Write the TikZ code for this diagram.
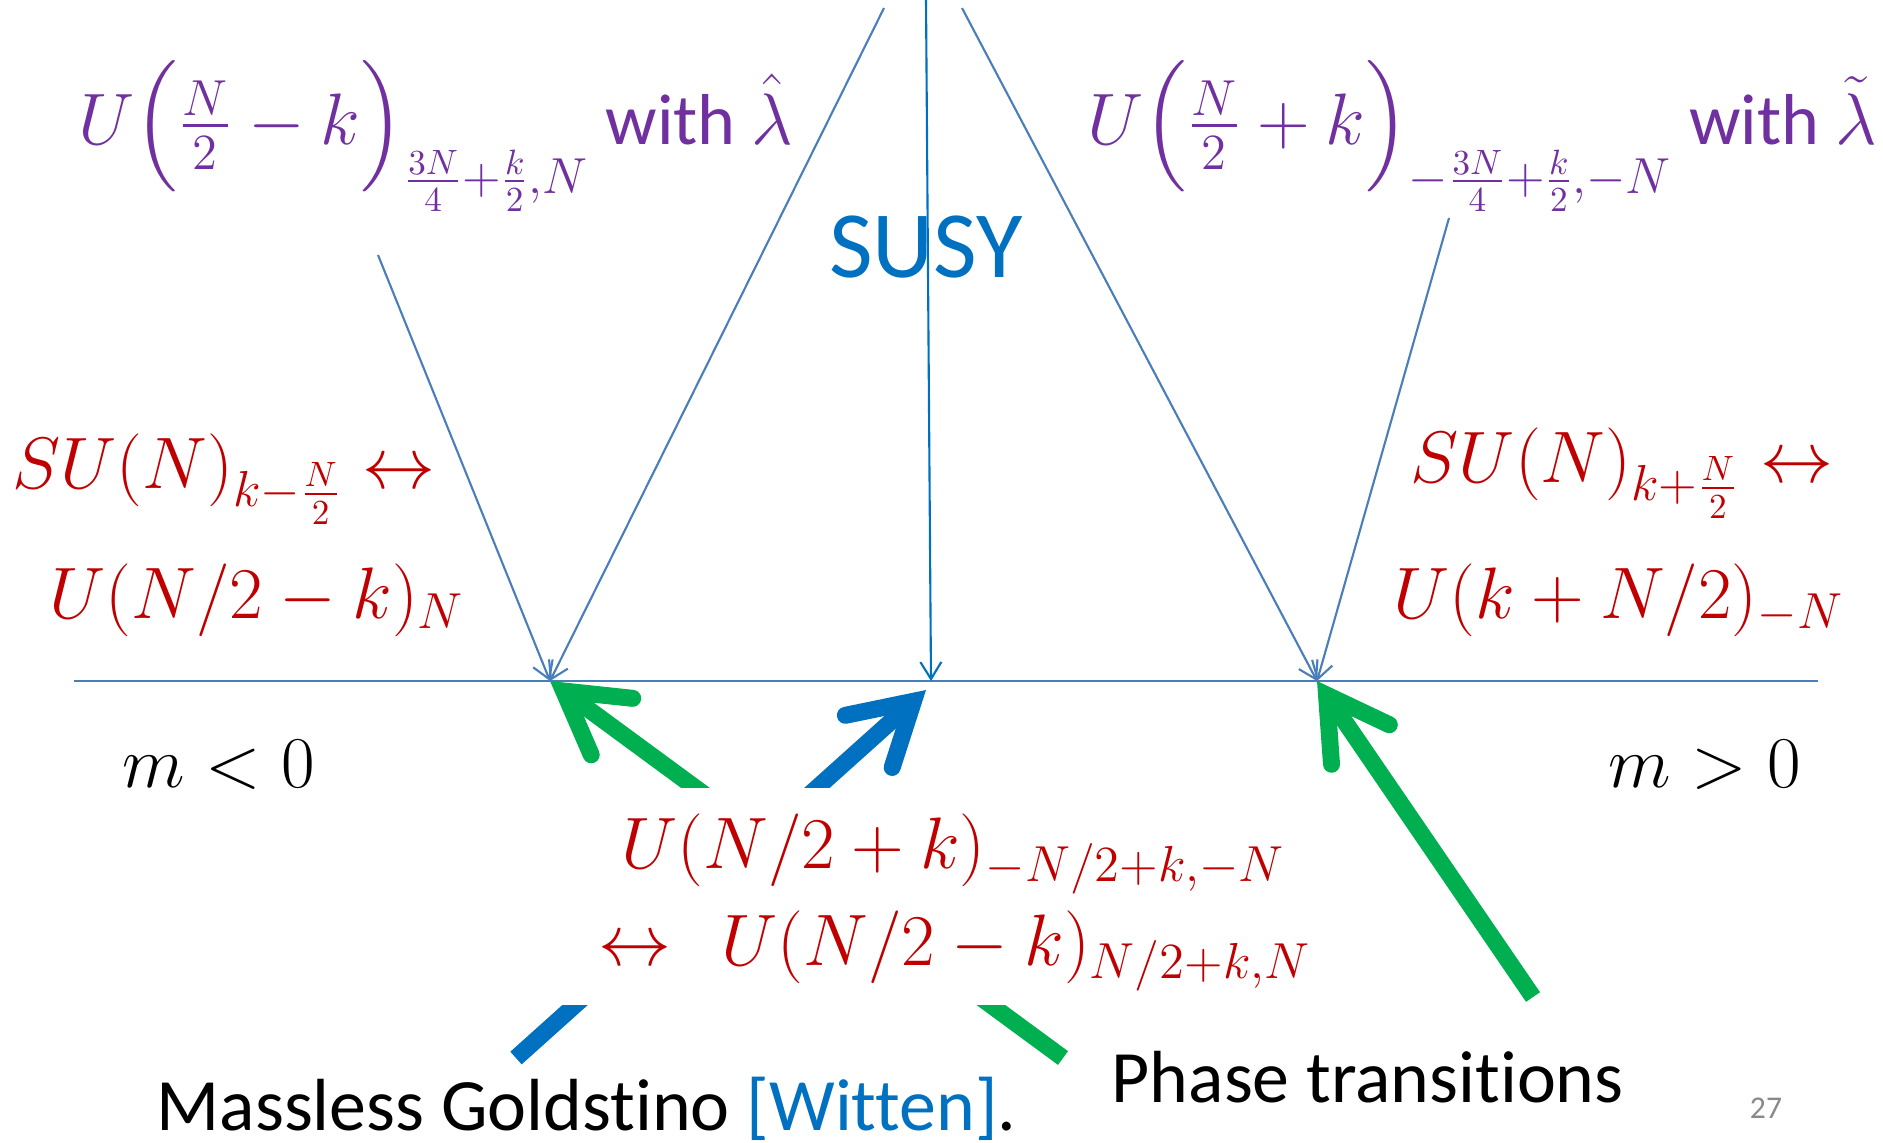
\documentclass[tikz,border=0pt]{standalone}
\usepackage{amsmath}
\usepackage{fontspec}
\setmainfont{Carlito}[Ligatures=NoCommon]
\usetikzlibrary{arrows.meta}
\definecolor{susyblue}{HTML}{0070C0}
\definecolor{flowblue}{HTML}{4A7EBB}
\definecolor{dualred}{HTML}{C00000}
\definecolor{levelpurple}{HTML}{7030A0}
\definecolor{phasegreen}{HTML}{00B050}
\definecolor{pagegray}{HTML}{898989}
\newcommand\slidesize{\fontsize{20.5}{27.6}\selectfont}
\tikzset{
  massaxis/.style={draw=flowblue,line width=.7pt},
  feed/.style={draw=flowblue,line width=.6pt,-{Straight Barb[length=.17cm,width=.21cm]}},
  fat/.style={line width=.17cm,-{Straight Barb[length=.6cm,width=.7cm,line cap=round,line join=miter]}},
  eqn/.style={inner sep=0pt,font=\slidesize},
  words/.style={inner sep=0pt,font=\fontsize{21}{25}\selectfont}}

\begin{document}
\begin{tikzpicture}[x=.01cm,y=-.01cm]
\useasboundingbox (0,0) rectangle (1883,1142);
% mass axis and the three special points
\coordinate (axL) at (74,681);\coordinate (axR) at (1818,681);
\coordinate (pL) at (550,681);\coordinate (pM) at (931,681);\coordinate (pR) at (1317,681);
\draw[massaxis] (axL)--(axR);
% thin feeds from above
\coordinate (lamHat) at (378,255);\coordinate (topA) at (884,8);
\coordinate (topB) at (926,0);\coordinate (topC) at (962,8);\coordinate (lamTil) at (1449,218);
\draw[feed] (lamHat)--(pL);\draw[feed] (topA)--(pL);
\draw[feed,draw=susyblue] (topB)--(pM);
\draw[feed] (topC)--(pR);\draw[feed] (lamTil)--(pR);
% thick arrows from the bottom labels
\coordinate (gsTail) at (516,1058);\coordinate (gsTip) at (926,690);
\coordinate (ptTail) at (1063,1058);\coordinate (ptTailR) at (1533,997);
\draw[fat,draw=susyblue] (gsTail)--(gsTip);
\draw[fat,draw=phasegreen] (ptTail)--(pL);
\draw[fat,draw=phasegreen] (ptTailR)--(pR);
% labels
\node[eqn,text=levelpurple,anchor=base west] (uMinus) at (78,144)
  {$U\Bigl(\frac{N}{2}-k\Bigr)_{\frac{3N}{4}+\frac{k}{2},N}$ with $\hat{\lambda}$};
\node[eqn,text=levelpurple,anchor=base west] (uPlus) at (1087,144)
  {$U\Bigl(\frac{N}{2}+k\Bigr)_{-\frac{3N}{4}+\frac{k}{2},-N}$ with $\tilde{\lambda}$};
\node[inner sep=0pt,font=\fontsize{27}{32}\selectfont,text=susyblue,anchor=base] (susy) at (926,277) {SUSY};
\node[eqn,text=dualred,anchor=base west] (suL) at (12,488) {$SU(N)_{k-\frac{N}{2}}\leftrightarrow$};
\node[eqn,text=dualred,anchor=base west] (uL) at (49,618) {$U(N/2-k)_N$};
\node[eqn,text=dualred,anchor=base west] (suR) at (1410,482) {$SU(N)_{k+\frac{N}{2}}\leftrightarrow$};
\node[eqn,text=dualred,anchor=base west] (uR) at (1393,618) {$U(k+N/2)_{-N}$};
\node[eqn,anchor=base west] (mNeg) at (122,787) {$m<0$};
\node[eqn,anchor=base west] (mPos) at (1608,787) {$m>0$};
\node[eqn,text=dualred,fill=white,align=left,anchor=north west] (dual) at (550,787)
  {\hspace*{.71cm}\rule{0pt}{.81cm}$U(N/2+k)_{-N/2+k,-N}$\\
   \hspace*{.48cm}$\leftrightarrow$\hspace{.5cm}$U(N/2-k)_{N/2+k,N}$\rule[-.39cm]{0pt}{.39cm}};
\node[words,anchor=base west] (goldstino) at (156,1130) {Massless Goldstino \textcolor{susyblue}{[Witten]}.};
\node[words,anchor=base west] (phase) at (1111,1102) {Phase transitions};
\node[inner sep=0pt,font=\fontsize{9}{11}\selectfont,text=pagegray,anchor=base] (page) at (1766,1118) {27};
\end{tikzpicture}
\end{document}
